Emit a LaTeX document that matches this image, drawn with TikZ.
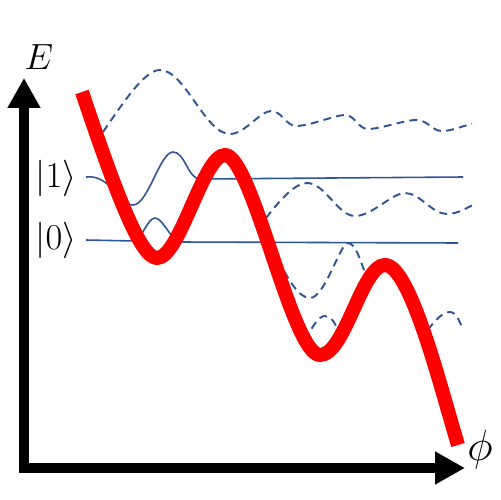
\documentclass[tikz,border=0pt]{standalone}
\usetikzlibrary{arrows.meta}
\definecolor{wblue}{RGB}{47,85,151}
\begin{document}
\begin{tikzpicture}[x=0.02cm,y=-0.02cm,
  axis/.style={line width=5.7pt,line join=miter,{Triangle[width=17.6pt,length=17pt]}-{Triangle[width=17.6pt,length=17pt]}},
  pot/.style={red,line width=8pt,line join=round},
  level/.style={wblue,line width=0.9pt},
  wf/.style={wblue,line width=1.1pt,dash pattern=on 4.5pt off 3pt},
  lab/.style={inner sep=0pt,font=\fontsize{21}{24}\selectfont}]
\useasboundingbox (0,0) rectangle (500,500);
\fill[white] (0,0) rectangle (500,500);
% axes
\coordinate (ytop) at (24,78);
\coordinate (orig) at (24,468);
\coordinate (xend) at (465,468);
\draw[axis] (ytop) -- (orig) -- (xend);
\node[lab,font=\fontsize{20}{24}\selectfont] (E) at (39,57) {$E$};
\node[lab,font=\fontsize{26}{30}\selectfont] (phi) at (480,450) {$\phi$};
\node[lab] (k1) at (56,178) {$|1\rangle$};
\node[lab] (k0) at (56,240) {$|0\rangle$};
% dashed wavefunctions
\draw[wf] (103,132) .. controls (125,100) and (145,70) .. (160,70)
  .. controls (185,70) and (205,134) .. (230,134)
  .. controls (245,134) and (260,111) .. (271,111)
  .. controls (282,111) and (286,126) .. (296,126)
  .. controls (310,126) and (335,115) .. (345,115)
  .. controls (355,115) and (358,129) .. (368,129)
  .. controls (380,129) and (405,120) .. (416,120)
  .. controls (428,120) and (432,131) .. (442,131)
  .. controls (452,131) and (462,126) .. (472,124);
\draw[wf] (266,218) .. controls (280,200) and (295,183) .. (307,183)
  .. controls (325,183) and (338,216) .. (355,216)
  .. controls (372,216) and (392,193) .. (405,193)
  .. controls (420,193) and (432,214) .. (447,214)
  .. controls (458,214) and (468,207) .. (475,204);
\draw[wf] (278,260) .. controls (288,278) and (298,298) .. (310,298)
  .. controls (325,298) and (340,243) .. (348,243)
  .. controls (356,243) and (362,265) .. (367,279);
\draw[wf] (305,340) .. controls (312,328) and (318,316) .. (325,316)
  .. controls (332,316) and (335,324) .. (338,330);
\draw[wf] (428,330) .. controls (435,320) and (443,312) .. (450,312)
  .. controls (456,312) and (460,322) .. (463,330);
% energy levels
\draw[level] (86,177) .. controls (110,174) and (120,205) .. (133,205)
  .. controls (148,205) and (160,152) .. (173,152)
  .. controls (185,152) and (188,179) .. (200,179) -- (463,177);
\draw[level] (86,240) -- (135,241) .. controls (142,238) and (148,218) .. (155,218)
  .. controls (163,218) and (172,242) .. (180,242) -- (458,243);
% potential
\draw[pot] (82,92) .. controls (115,190) and (140,258) .. (157,258)
  .. controls (180,258) and (203,155) .. (225,155)
  .. controls (252,155) and (292,355) .. (320,355)
  .. controls (345,355) and (362,265) .. (385,265)
  .. controls (410,265) and (440,385) .. (458,445);
\end{tikzpicture}
\end{document}
